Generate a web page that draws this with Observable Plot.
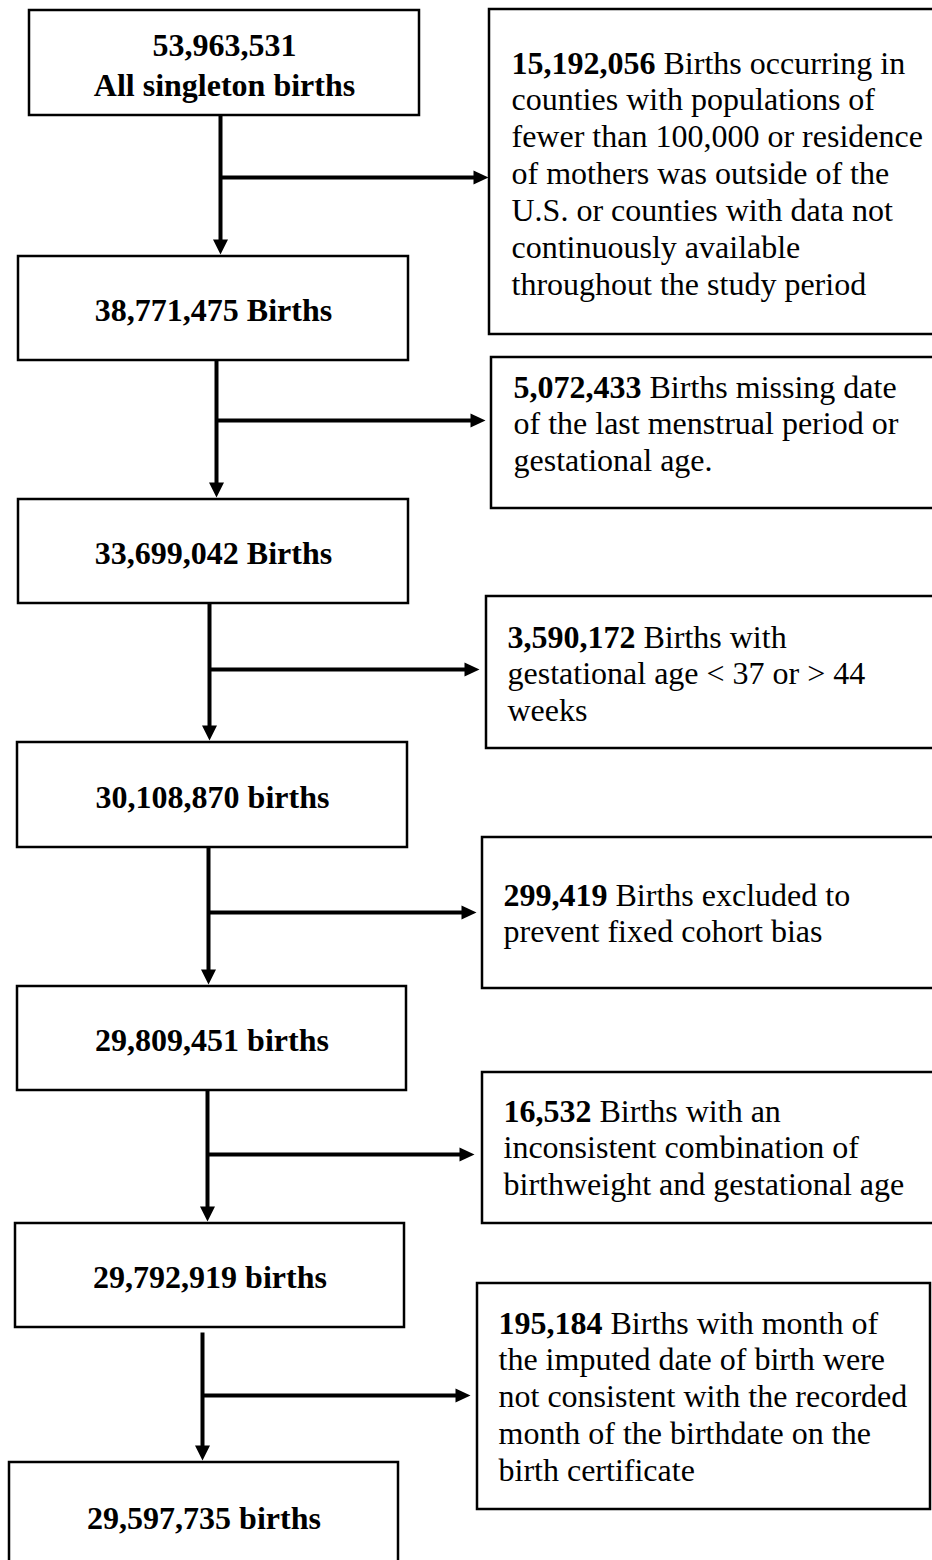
<!DOCTYPE html>
<html>
<head>
<meta charset="utf-8">
<script src="https://cdn.jsdelivr.net/npm/d3@7"></script>
<script src="https://cdn.jsdelivr.net/npm/@observablehq/plot@0.6"></script>
<style>
  html, body { margin: 0; padding: 0; background: #fff; }
  #chart svg { display: block; }
</style>
</head>
<body>
<div id="chart"></div>
<script>
// ---- Data ----
const mainCounts = ["53,963,531", "38,771,475", "33,699,042", "30,108,870", "29,809,451", "29,792,919", "29,597,735"];
const mainLabels = ["All singleton births", "Births", "Births", "births", "births", "births", "births"];
const exclCounts = ["15,192,056", "5,072,433", "3,590,172", "299,419", "16,532", "195,184"];
const exclLines = [
  ["Births occurring in", "counties with populations of", "fewer than 100,000 or residence", "of mothers was outside of the", "U.S. or counties with data not", "continuously available", "throughout the study period"],
  ["Births missing date", "of the last menstrual period or", "gestational age."],
  ["Births with", "gestational age < 37 or > 44", "weeks"],
  ["Births excluded to", "prevent fixed cohort bias"],
  ["Births with an", "inconsistent combination of", "birthweight and gestational age"],
  ["Births with month of", "the imputed date of birth were", "not consistent with the recorded", "month of the birthdate on the", "birth certificate"]
];

// ---- Layout (pixel-space positions of the flowchart elements) ----
const W = 932, H = 1560;
const mainX1 = [29, 18, 18, 17, 17, 15, 9];
const mainX2 = [419, 408, 408, 407, 406, 404, 398];
const mainY1 = [10, 256, 499, 742, 986, 1223, 1462];
const mainY2 = [115, 360, 603, 847, 1090, 1327, 1570];
const stemX = [220, 216, 209, 208, 207, 202];
const stemY1 = [115, 360, 603, 847, 1090, 1332];
const branchY = [177, 420, 669, 912, 1154, 1395];
const branchTipX = [488, 485, 479, 476, 474, 470];
const exclX1 = [489, 491, 486, 482, 482, 477];
const exclX2 = [950, 950, 950, 950, 950, 930];
const exclY1 = [9, 357, 596, 837, 1072, 1283];
const exclY2 = [334, 508, 748, 988, 1223, 1509];
const exclTextX = [511, 513, 507, 503, 503, 498];
const exclBaseline = [73, 397, 647, 905, 1121, 1333];
const lineStep = 36.9;
const fontFamily = "'Liberation Serif', 'Times New Roman', serif";
const fontSize = 32;

// ---- Build tables ----
const canvas = document.createElement("canvas");
const ctx = canvas.getContext("2d");
ctx.font = `bold ${fontSize}px ${fontFamily}`;

const mainBoxes = mainCounts.map((c, i) => ({
  x1: mainX1[i], x2: mainX2[i], y1: mainY1[i], y2: mainY2[i],
  cx: (mainX1[i] + mainX2[i]) / 2, cy: (mainY1[i] + mainY2[i]) / 2,
  label: i === 0 ? c + "\n" + mainLabels[i] : c + " " + mainLabels[i]
}));
const exclBoxes = exclCounts.map((c, i) => ({x1: exclX1[i], x2: exclX2[i], y1: exclY1[i], y2: exclY2[i]}));
const boldRows = exclCounts.map((c, i) => ({x: exclTextX[i], y: exclBaseline[i], text: c}));
const plainRows = exclLines.flatMap((lines, i) => lines.map((t, j) => ({
  x: j === 0 ? exclTextX[i] + ctx.measureText(exclCounts[i] + " ").width : exclTextX[i],
  y: exclBaseline[i] + j * lineStep,
  text: t
})));
const stems = stemX.map((x, i) => ({x, y1: stemY1[i], y2: mainY1[i + 1] - 10}));
const downHeads = stemX.map((x, i) => ({x, y: mainY1[i + 1] - 2}));
const branches = branchY.map((y, i) => ({x1: stemX[i], x2: branchTipX[i] - 10, y}));
const rightHeads = branchY.map((y, i) => ({x: branchTipX[i], y}));

const headDown = {
  draw(context) {
    context.moveTo(0, 0);
    context.lineTo(-7.5, -15);
    context.lineTo(7.5, -15);
    context.closePath();
  }
};
const headRight = {
  draw(context) {
    context.moveTo(0, 0);
    context.lineTo(-15, -7);
    context.lineTo(-15, 7);
    context.closePath();
  }
};

const chart = Plot.plot({
  width: W,
  height: H,
  margin: 0,
  x: {type: "linear", domain: [0, W], range: [0, W], axis: null},
  y: {type: "linear", domain: [0, H], range: [0, H], axis: null},
  style: {background: "white", color: "black"},
  marks: [
    Plot.rect(mainBoxes, {x1: "x1", x2: "x2", y1: "y1", y2: "y2", fill: "white", stroke: "black", strokeWidth: 2.5}),
    Plot.rect(exclBoxes, {x1: "x1", x2: "x2", y1: "y1", y2: "y2", fill: "white", stroke: "black", strokeWidth: 2.5}),
    Plot.link(stems, {x1: "x", x2: "x", y1: "y1", y2: "y2", stroke: "black", strokeWidth: 4}),
    Plot.link(branches, {x1: "x1", x2: "x2", y1: "y", y2: "y", stroke: "black", strokeWidth: 4}),
    Plot.dot(downHeads, {x: "x", y: "y", symbol: headDown, fill: "black", stroke: "none", r: 8}),
    Plot.dot(rightHeads, {x: "x", y: "y", symbol: headRight, fill: "black", stroke: "none", r: 8}),
    Plot.text(mainBoxes, {x: "cx", y: "cy", text: "label", textAnchor: "middle", lineAnchor: "middle", lineHeight: 1.25,
      fontFamily, fontSize, fontWeight: "bold", fill: "black"}),
    Plot.text(boldRows, {x: "x", y: "y", text: "text", textAnchor: "start", lineAnchor: "bottom",
      fontFamily, fontSize, fontWeight: "bold", fill: "black"}),
    Plot.text(plainRows, {x: "x", y: "y", text: "text", textAnchor: "start", lineAnchor: "bottom",
      fontFamily, fontSize, fontWeight: "normal", fill: "black"})
  ]
});
document.getElementById("chart").appendChild(chart);
</script>
</body>
</html>
